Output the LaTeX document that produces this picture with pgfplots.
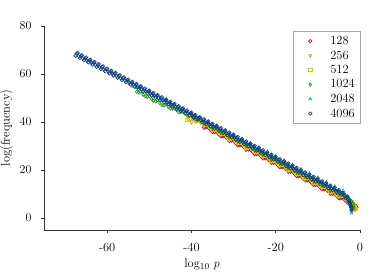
\documentclass[border=0pt]{standalone}
\usepackage{fontspec}
\usepackage{pgfplots}
\pgfplotsset{compat=1.18}
\definecolor{cred}{RGB}{178,24,24}
\definecolor{corange}{RGB}{240,130,30}
\definecolor{cyellow}{RGB}{205,200,0}
\definecolor{cgreen}{RGB}{20,155,20}
\definecolor{cteal}{RGB}{30,160,160}
\definecolor{cblue}{RGB}{16,64,130}
\newcommand{\chartfont}{\fontsize{12.5}{15}\selectfont}
\begin{document}
\begin{tikzpicture}[font=\chartfont]
\begin{axis}[
  scale only axis, width=316pt, height=204pt,
  xmin=-75, xmax=0, ymin=-5, ymax=80,
  axis lines=left,
  axis line style={-, draw=black!80, line width=0.6pt},
  xtick={-60,-40,-20,0}, xticklabels={-60,-40,-20,0},
  ytick={0,20,40,60,80},
  tick align=outside, major tick length=3pt,
  tick style={draw=black!80, line width=0.6pt},
  tick label style={font=\chartfont},
  label style={font=\chartfont},
  xticklabel style={yshift=-7pt},
  yticklabel style={xshift=-6pt},
  xlabel={log$_{10}$ $p$}, ylabel={log(frequency)},
  legend style={at={(1,0.975)}, anchor=north east, draw=black!35, fill=white,
    font=\chartfont, inner xsep=3pt, inner ysep=3pt, row sep=0.6pt},
  legend cell align=left,
  legend image code/.code={\path[draw=none,fill=none] (0pt,-2pt) (32pt,2pt);
    \draw[mark repeat=2,mark phase=2,#1] plot coordinates {(0pt,0pt)(14pt,0pt)(32pt,0pt)};},
  every axis plot/.append style={/tikz/only marks, mark size=1.7pt, line width=0.65pt},
]
\addplot[cred, mark=o] table {
-37 37.6
-36.5 37.7
-36 37.7
-35.5 36.8
-35 35.8
-34.5 35.8
-34 35.9
-33.5 34.9
-33 34.0
-32.5 34.0
-32 34.0
-31.5 33.1
-31 32.1
-30.5 32.2
-30 32.2
-29.5 31.2
-29 30.3
-28.5 30.3
-28 30.4
-27.5 29.4
-27 28.4
-26.5 28.5
-26 28.5
-25.5 27.6
-25 26.6
-24.5 26.6
-24 26.7
-23.5 25.7
-23 24.8
-22.5 24.8
-22 24.8
-21.5 23.9
-21 22.9
-20.5 23.0
-20 23.0
-19.5 22.0
-19 21.1
-18.5 21.1
-18 21.2
-17.5 20.2
-17 19.2
-16.5 19.3
-16 19.3
-15.5 18.4
-15 17.4
-14.5 17.4
-14 17.5
-13.5 16.5
-13 15.6
-12.5 15.6
-12 15.6
-11.5 14.7
-11 13.7
-10.5 13.8
-10 13.8
-9.5 12.8
-9 11.9
-8.5 11.9
-8 12.0
-7.5 11.0
-7 10.0
-6.5 10.1
-6 10.1
-5.5 9.2
-5 8.2
-4.5 8.2
-4 8.3
-3.5 7.3
-3 6.4
-2.5 6.6
-2 6.4
-1.5 6.0
-1.2 5.5
-1.0 5.0
-0.8 4.4
};
\addlegendentry{128}
\addplot[corange, mark=triangle, mark options={rotate=180}] table {
-40 39.8
-39 40.1
-38 40.2
-37 38.2
-36 38.3
-35 36.4
-34 36.5
-33 34.6
-32 34.6
-31 32.7
-30 32.8
-29 30.9
-28 31.0
-27 29.0
-26 29.1
-25 27.2
-24 27.3
-23 25.4
-22 25.4
-21 23.5
-20 23.6
-19 21.7
-18 21.8
-17 19.8
-16 19.9
-15 18.0
-14 18.1
-13 16.2
-12 16.2
-11 14.3
-10 14.4
-9 12.5
-8 12.6
-7 10.6
-6 10.7
-5 8.8
-4 8.9
-3 7.0
-2.5 6.8
-2 6.1
-1.6 5.2
-1.4 4.3
-1.2 3.3
};
\addlegendentry{256}
\addplot[cyellow, mark=square] table {
-41 40.8
-40.5 41.2
-40 41.5
-39.5 41.5
-39 40.6
-38.5 40.6
-38 40.7
-37.5 39.7
-37 38.7
-36.5 38.8
-36 38.8
-35.5 37.9
-35 36.9
-34.5 36.9
-34 37.0
-33.5 36.0
-33 35.1
-32.5 35.1
-32 35.1
-31.5 34.2
-31 33.2
-30.5 33.3
-30 33.3
-29.5 32.3
-29 31.4
-28.5 31.4
-28 31.5
-27.5 30.5
-27 29.5
-26.5 29.6
-26 29.6
-25.5 28.7
-25 27.7
-24.5 27.7
-24 27.8
-23.5 26.8
-23 25.9
-22.5 25.9
-22 25.9
-21.5 25.0
-21 24.0
-20.5 24.1
-20 24.1
-19.5 23.1
-19 22.2
-18.5 22.2
-18 22.3
-17.5 21.3
-17 20.3
-16.5 20.4
-16 20.4
-15.5 19.5
-15 18.5
-14.5 18.5
-14 18.6
-13.5 17.6
-13 16.7
-12.5 16.7
-12 16.7
-11.5 15.8
-11 14.8
-10.5 14.9
-10 14.9
-9.5 13.9
-9 13.0
-8.5 13.0
-8 13.1
-7.5 12.1
-7 11.1
-6.5 11.2
-6 11.2
-5.5 10.3
-5 9.3
-4.5 9.3
-4 9.4
-3.5 8.4
-3 7.5
-2.5 7.2
-2 6.5
-1.6 5.6
-1.3 4.7
-1.1 3.9
};
\addlegendentry{512}
\addplot[cgreen, mark=diamond] table {
-53 52.6
-52.5 52.3
-52 52.6
-51.5 51.4
-51 50.7
-50.5 50.5
-50 50.8
-49.5 49.6
-49 48.9
-48.5 48.6
-48 49.0
-47.5 47.9
-47 47.0
-46.5 46.9
-46 47.3
-45.5 46.3
-45 45.6
-44.5 45.6
-44 45.8
-43.5 44.9
-43 44.1
-42.5 44.1
-42 44.3
-41.5 43.4
-41 42.6
-40.5 42.7
-40 42.9
-39.5 41.9
-39 41.1
-38.5 41.1
-38 41.3
-37 39.3
-36 39.4
-35 37.5
-34 37.6
-33 35.7
-32 35.7
-31 33.8
-30 33.9
-29 32.0
-28 32.1
-27 30.1
-26 30.2
-25 28.3
-24 28.4
-23 26.5
-22 26.5
-21 24.6
-20 24.7
-19 22.8
-18 22.9
-17 20.9
-16 21.0
-15 19.1
-14 19.2
-13 17.3
-12 17.3
-11 15.4
-10 15.5
-9 13.6
-8 13.7
-7 11.7
-6 11.8
-5 9.9
-4 10.0
-3.5 9.3
-3 8.9
-2.5 8.0
-2 7.0
-1.7 6.0
-1.5 5.0
-1.4 4.2
};
\addlegendentry{1024}
\addplot[cteal, mark=triangle] table {
-54 54.8
-53 54.3
-52 54.6
-51 52.5
-50 52.8
-49 50.7
-48 51.0
-47 48.9
-46 49.2
-45 47.1
-44 47.4
-43 45.3
-42 45.6
-41 43.5
-40 43.8
-39 41.7
-38 42.0
-37 39.9
-36 40.2
-35 38.1
-34 38.4
-33 36.3
-32 36.6
-31 34.5
-30 34.8
-29 32.7
-28 33.0
-27 30.9
-26 31.2
-25 29.1
-24 29.4
-23 27.3
-22 27.6
-21 25.5
-20 25.8
-19 23.7
-18 24.0
-17 21.9
-16 22.2
-15 20.1
-14 20.4
-13 18.3
-12 18.6
-11 16.5
-10 16.8
-9 14.7
-8 15.0
-7 12.9
-6 13.2
-5 11.1
-4 11.4
-3.5 9.6
-3 9.0
-2.6 7.5
-2.3 5.5
-2.1 3.5
-2.0 2.0
};
\addlegendentry{2048}
\addplot[cblue, mark=o] table {
-67.5 67.60
-67.25 68.47
-67 68.74
-66.75 67.41
-66.5 66.68
-66.25 67.55
-66 67.82
-65.75 66.49
-65.5 65.76
-65.25 66.63
-65 66.90
-64.75 65.57
-64.5 64.84
-64.25 65.71
-64 65.98
-63.75 64.65
-63.5 63.92
-63.25 64.79
-63 65.06
-62.75 63.73
-62.5 63.00
-62.25 63.87
-62 64.14
-61.75 62.81
-61.5 62.08
-61.25 62.95
-61 63.22
-60.75 61.89
-60.5 61.16
-60.25 62.03
-60 62.30
-59.75 60.97
-59.5 60.24
-59.25 61.11
-59 61.38
-58.75 60.05
-58.5 59.32
-58.25 60.19
-58 60.46
-57.75 59.13
-57.5 58.40
-57.25 59.27
-57 59.54
-56.75 58.21
-56.5 57.48
-56.25 58.35
-56 58.62
-55.75 57.29
-55.5 56.56
-55.25 57.43
-55 57.70
-54.75 56.37
-54.5 55.64
-54.25 56.51
-54 56.78
-53.75 55.45
-53.5 54.72
-53.25 55.59
-53 55.86
-52.75 54.53
-52.5 53.80
-52.25 54.67
-52 54.94
-51.75 53.61
-51.5 52.88
-51.25 53.75
-51 54.02
-50.75 52.69
-50.5 51.96
-50.25 52.83
-50 53.10
-49.75 51.77
-49.5 51.04
-49.25 51.91
-49 52.18
-48.75 50.85
-48.5 50.12
-48.25 50.99
-48 51.26
-47.75 49.93
-47.5 49.20
-47.25 50.07
-47 50.34
-46.75 49.01
-46.5 48.28
-46.25 49.15
-46 49.42
-45.75 48.09
-45.5 47.36
-45.25 48.23
-45 48.50
-44.75 47.17
-44.5 46.44
-44.25 47.31
-44 47.58
-43.75 46.25
-43.5 45.52
-43.25 46.39
-43 46.66
-42.75 45.33
-42.5 44.60
-42.25 45.47
-42 45.74
-41.75 44.41
-41.5 43.68
-41.25 44.55
-41 44.82
-40.75 43.49
-40.5 42.76
-40.25 43.63
-40 43.90
-39.75 42.57
-39.5 41.84
-39.25 42.71
-39 42.98
-38.75 41.65
-38.5 40.92
-38.25 41.79
-38 42.06
-37.75 40.73
-37.5 40.00
-37.25 40.87
-37 41.14
-36.75 39.81
-36.5 39.08
-36.25 39.95
-36 40.22
-35.75 38.89
-35.5 38.16
-35.25 39.03
-35 39.30
-34.75 37.97
-34.5 37.24
-34.25 38.11
-34 38.38
-33.75 37.05
-33.5 36.32
-33.25 37.19
-33 37.46
-32.75 36.13
-32.5 35.40
-32.25 36.27
-32 36.54
-31.75 35.21
-31.5 34.48
-31.25 35.35
-31 35.62
-30.75 34.29
-30.5 33.56
-30.25 34.43
-30 34.70
-29.75 33.37
-29.5 32.64
-29.25 33.51
-29 33.78
-28.75 32.45
-28.5 31.72
-28.25 32.59
-28 32.86
-27.75 31.53
-27.5 30.80
-27.25 31.67
-27 31.94
-26.75 30.61
-26.5 29.88
-26.25 30.75
-26 31.02
-25.75 29.69
-25.5 28.96
-25.25 29.83
-25 30.10
-24.75 28.77
-24.5 28.04
-24.25 28.91
-24 29.18
-23.75 27.85
-23.5 27.12
-23.25 27.99
-23 28.26
-22.75 26.93
-22.5 26.20
-22.25 27.07
-22 27.34
-21.75 26.01
-21.5 25.28
-21.25 26.15
-21 26.42
-20.75 25.09
-20.5 24.36
-20.25 25.23
-20 25.50
-19.75 24.17
-19.5 23.44
-19.25 24.31
-19 24.58
-18.75 23.25
-18.5 22.52
-18.25 23.39
-18 23.66
-17.75 22.33
-17.5 21.60
-17.25 22.47
-17 22.74
-16.75 21.41
-16.5 20.68
-16.25 21.55
-16 21.82
-15.75 20.49
-15.5 19.76
-15.25 20.63
-15 20.90
-14.75 19.57
-14.5 18.84
-14.25 19.71
-14 19.98
-13.75 18.65
-13.5 17.92
-13.25 18.79
-13 19.06
-12.75 17.73
-12.5 17.00
-12.25 17.87
-12 18.14
-11.75 16.81
-11.5 16.08
-11.25 16.95
-11 17.22
-10.75 15.89
-10.5 15.16
-10.25 16.03
-10 16.30
-9.75 14.97
-9.5 14.24
-9.25 15.11
-9 15.38
-8.75 14.05
-8.5 13.32
-8.25 14.19
-8 14.46
-7.75 13.13
-7.5 12.40
-7.25 13.27
-7 13.54
-6.75 12.21
-6.5 11.48
-6.25 12.35
-6 12.62
-5.75 11.29
-5.5 10.56
-5.25 11.43
-5 11.70
-4.75 10.37
-4.5 9.64
-4.25 10.51
-4 10.30
-3.75 9.20
-3.5 8.20
-3.25 8.80
-3 9.00
-2.85 7.80
-2.75 6.80
-2.6 7.40
-2.5 7.00
-2.4 6.20
-2.3 5.50
-2.2 5.00
-2.15 4.60
-2.05 4.20
-2.0 3.80
-1.95 3.00
};
\addlegendentry{4096}
\end{axis}
\pgfresetboundingbox
\path[use as bounding box] ([xshift=-44pt,yshift=-50pt]current axis.south west) rectangle ([xshift=14pt,yshift=26pt]current axis.north east);
\end{tikzpicture}
\end{document}
